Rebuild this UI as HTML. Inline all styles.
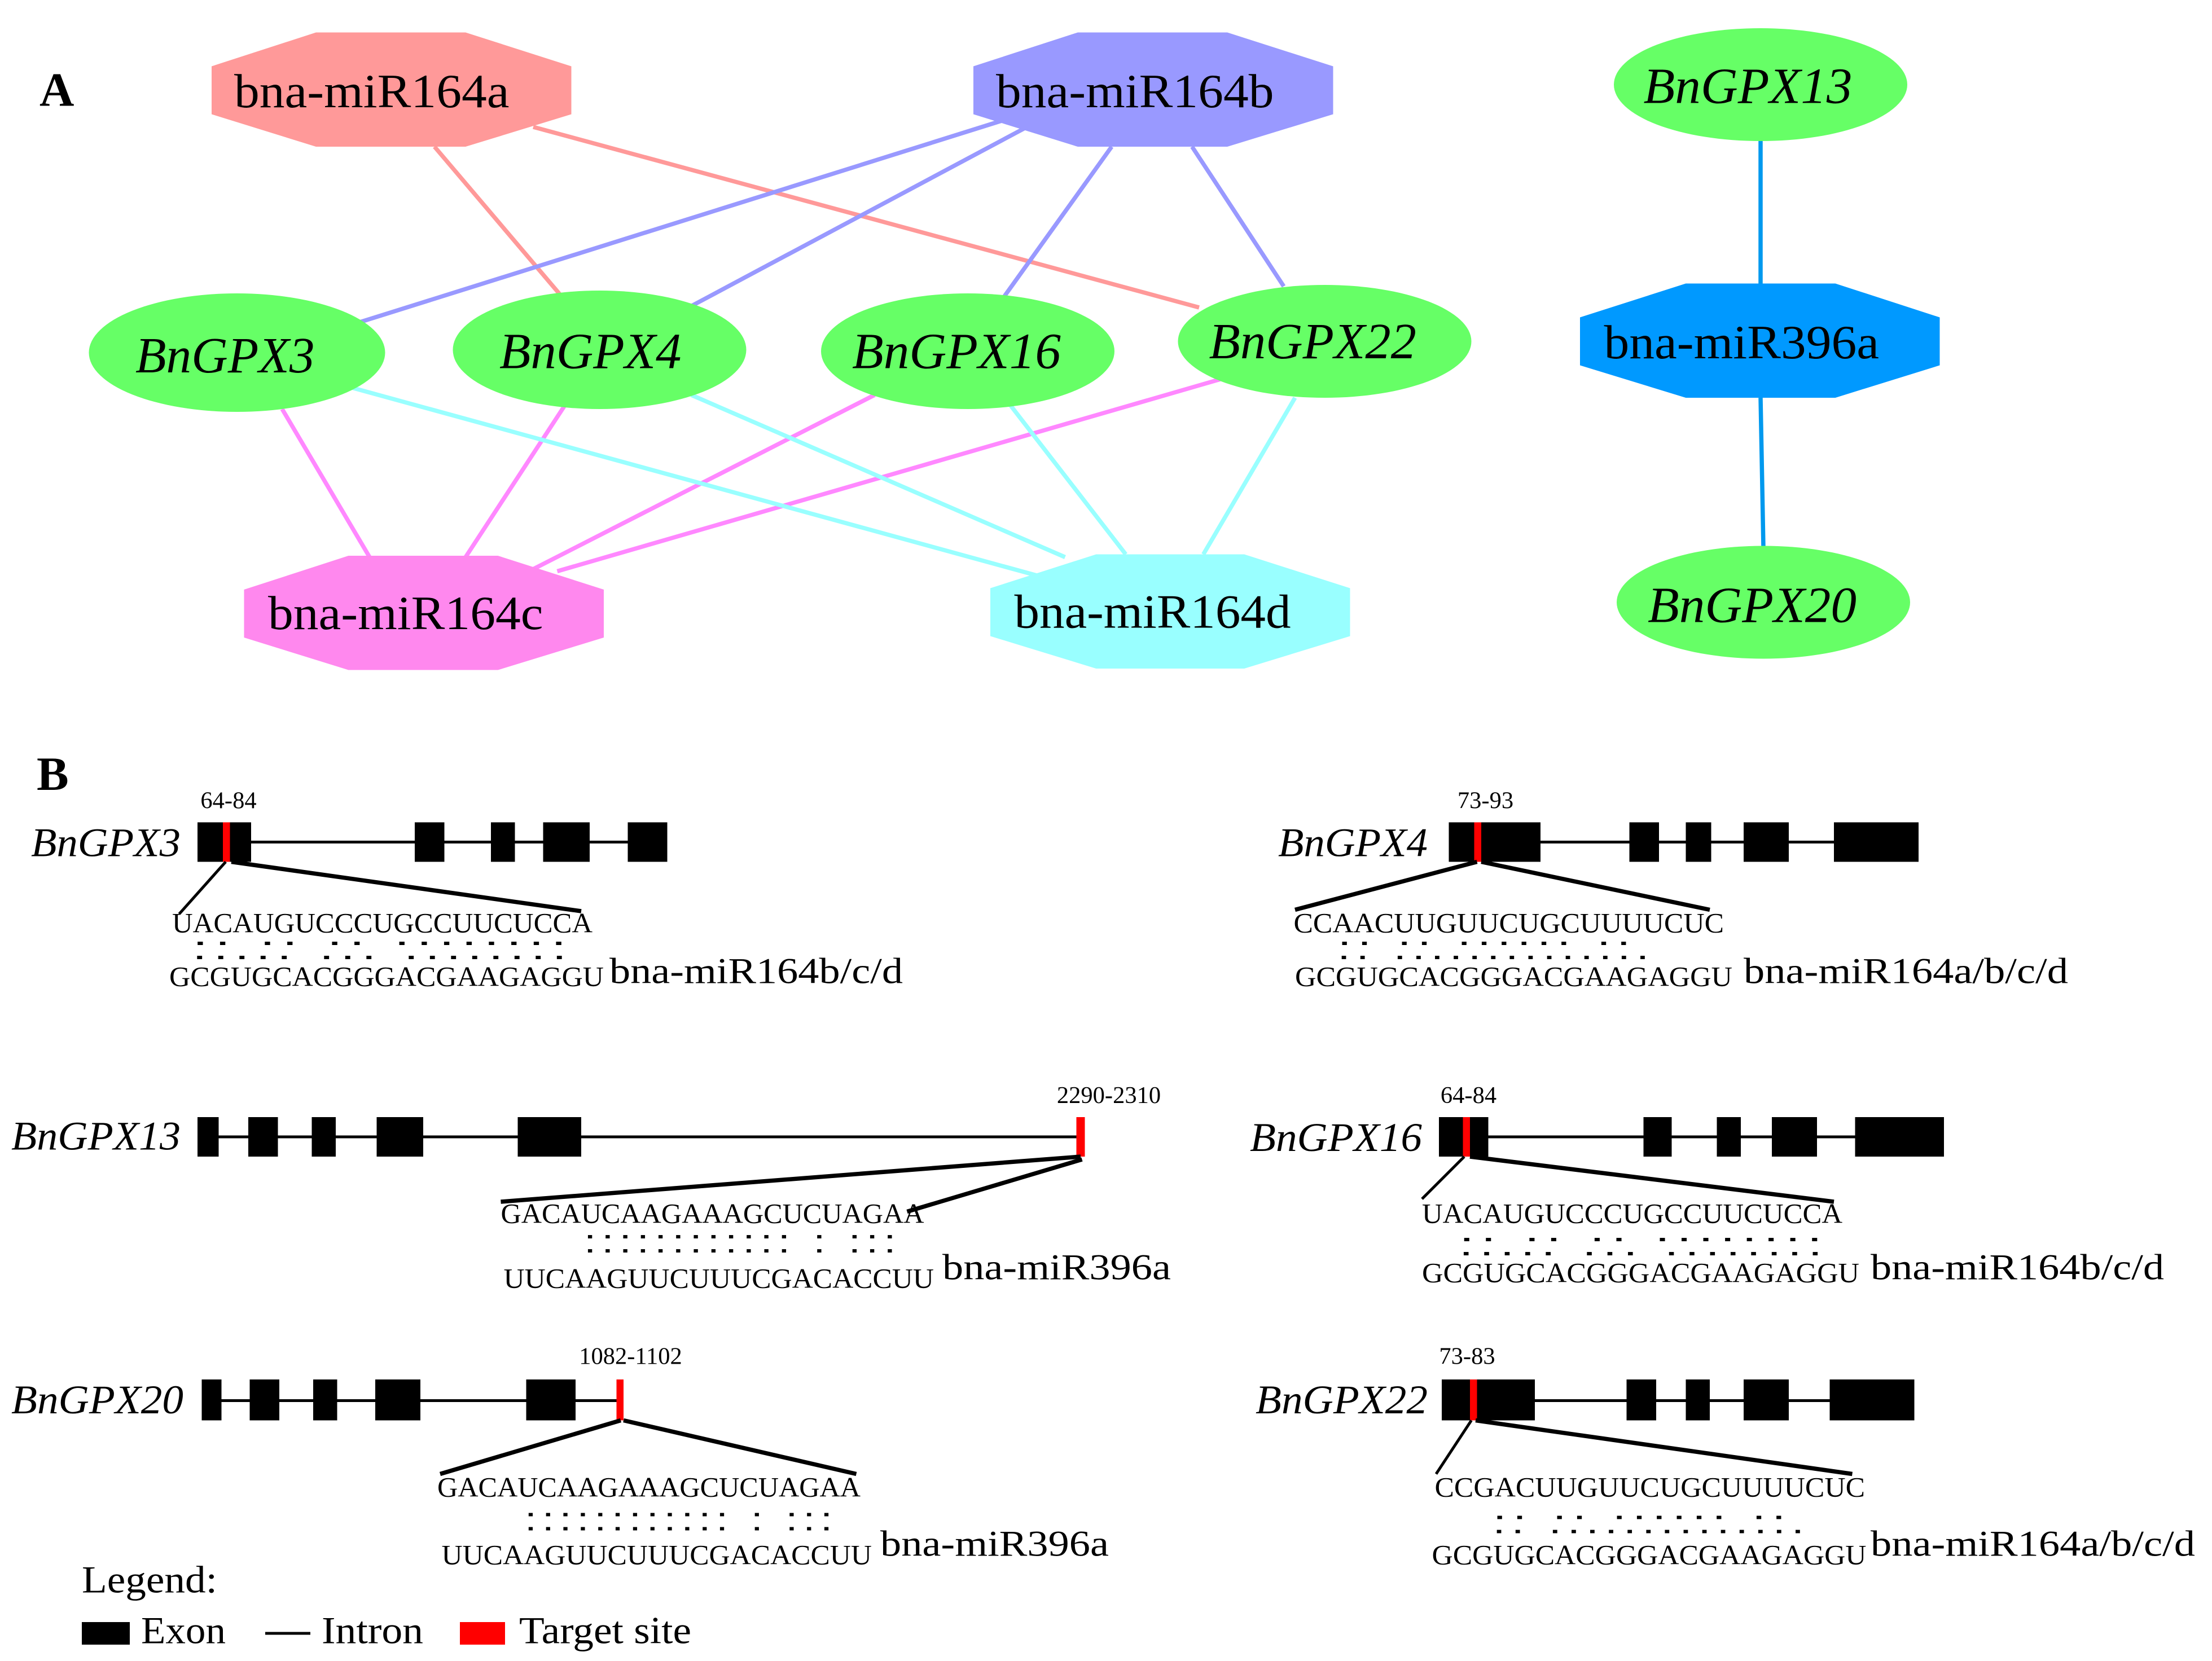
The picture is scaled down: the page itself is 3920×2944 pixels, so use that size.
<!DOCTYPE html>
<html><head><meta charset="utf-8"><style>
html,body{margin:0;padding:0;background:#fff}
svg{display:block}
text{font-family:"Liberation Serif",serif;fill:#000}
.m{font-family:"Liberation Mono",monospace;font-size:16px;font-weight:bold}
.g{font-size:29px;font-style:italic}
.s{font-size:20px}
.p{font-size:17px}
</style></head><body>
<svg xmlns="http://www.w3.org/2000/svg" width="3920" height="2944" viewBox="0 0 1568 1177.6">
<rect width="1568" height="1177.6" fill="#fff"/>
<text x="28" y="75" font-size="34" font-weight="bold">A</text>
<g stroke-width="3" fill="none">
<line x1="308" y1="104" x2="398" y2="210" stroke="#ff9999"/>
<line x1="378" y1="90" x2="850" y2="218" stroke="#ff9999"/>
<line x1="712" y1="85" x2="250" y2="230" stroke="#9999ff"/>
<line x1="728" y1="90" x2="490" y2="217" stroke="#9999ff"/>
<line x1="788" y1="104" x2="712" y2="210" stroke="#9999ff"/>
<line x1="845" y1="104" x2="910" y2="203" stroke="#9999ff"/>
<line x1="200" y1="290" x2="262" y2="395" stroke="#ff88ff"/>
<line x1="400" y1="288" x2="330" y2="395" stroke="#ff88ff"/>
<line x1="620" y1="280" x2="375" y2="405" stroke="#ff88ff"/>
<line x1="868" y1="268" x2="395" y2="405" stroke="#ff88ff"/>
<line x1="250" y1="275" x2="735" y2="408" stroke="#99ffff"/>
<line x1="490" y1="280" x2="755" y2="395" stroke="#99ffff"/>
<line x1="716" y1="287" x2="798" y2="393" stroke="#99ffff"/>
<line x1="918" y1="282" x2="853" y2="393" stroke="#99ffff"/>
<line x1="1248" y1="100" x2="1248" y2="202" stroke="#0099ee"/>
<line x1="1248" y1="282" x2="1250" y2="388" stroke="#0099ee"/>
</g>
<polygon points="224,23 330,23 405,47 405,81 330,104 224,104 150,81 150,47" fill="#ff9999"/>
<text x="166" y="76" font-size="34" textLength="195" lengthAdjust="spacingAndGlyphs">bna-miR164a</text>
<polygon points="764,23 870,23 945,47 945,81 870,104 764,104 690,81 690,47" fill="#9999ff"/>
<text x="706" y="76" font-size="34" textLength="197" lengthAdjust="spacingAndGlyphs">bna-miR164b</text>
<polygon points="1195,201 1301,201 1375,225 1375,259 1301,282 1195,282 1120,259 1120,225" fill="#0099ff"/>
<text x="1137" y="254" font-size="34" textLength="195" lengthAdjust="spacingAndGlyphs">bna-miR396a</text>
<polygon points="247,394 353,394 428,418 428,452 353,475 247,475 173,452 173,418" fill="#ff88ee"/>
<text x="190" y="446" font-size="34" textLength="195" lengthAdjust="spacingAndGlyphs">bna-miR164c</text>
<polygon points="777,393 882,393 957,417 957,451 882,474 777,474 702,451 702,417" fill="#99ffff"/>
<text x="719" y="445" font-size="34" textLength="196" lengthAdjust="spacingAndGlyphs">bna-miR164d</text>
<g fill="#66ff66">
<ellipse cx="1248" cy="60" rx="104" ry="40"/>
<ellipse cx="1250" cy="427" rx="104" ry="40"/>
<ellipse cx="168" cy="250" rx="105" ry="42"/>
<ellipse cx="425" cy="248" rx="104" ry="42"/>
<ellipse cx="686" cy="249" rx="104" ry="41"/>
<ellipse cx="939" cy="242" rx="104" ry="40"/>
</g>
<g font-style="italic" font-size="36">
<text x="1165" y="73" textLength="148" lengthAdjust="spacingAndGlyphs">BnGPX13</text>
<text x="1168" y="441" textLength="148" lengthAdjust="spacingAndGlyphs">BnGPX20</text>
<text x="96" y="264" textLength="127" lengthAdjust="spacingAndGlyphs">BnGPX3</text>
<text x="354" y="261" textLength="129" lengthAdjust="spacingAndGlyphs">BnGPX4</text>
<text x="604" y="261" textLength="148" lengthAdjust="spacingAndGlyphs">BnGPX16</text>
<text x="857" y="254" textLength="147" lengthAdjust="spacingAndGlyphs">BnGPX22</text>
</g>

<text x="26" y="560" font-size="34" font-weight="bold">B</text>

<!-- BnGPX3 -->
<text class="g" x="22" y="607" textLength="106" lengthAdjust="spacingAndGlyphs">BnGPX3</text>
<line x1="140" y1="597" x2="473" y2="597" stroke="#000" stroke-width="2"/>
<g fill="#000"><rect x="140" y="583" width="38" height="28"/><rect x="294" y="583" width="21" height="28"/><rect x="348" y="583" width="17" height="28"/><rect x="385" y="583" width="33" height="28"/><rect x="445" y="583" width="28" height="28"/></g>
<rect x="158" y="583" width="5" height="28" fill="#f00"/>
<text class="p" x="162" y="573" text-anchor="middle">64-84</text>
<line x1="160" y1="611" x2="127" y2="648" stroke="#000" stroke-width="2"/>
<line x1="164" y1="611" x2="412" y2="646" stroke="#000" stroke-width="3"/>
<text class="s" x="122" y="661" textLength="298" lengthAdjust="spacingAndGlyphs">UACAUGUCCCUGCCUUCUCCA</text>
<text class="m" x="134" y="670" textLength="270" lengthAdjust="spacingAndGlyphs">.. .. ..   ........</text>
<text class="m" x="134" y="680" textLength="270" lengthAdjust="spacingAndGlyphs">..... ...  ........</text>
<text class="s" x="120" y="699" textLength="308" lengthAdjust="spacingAndGlyphs">GCGUGCACGGGACGAAGAGGU</text>
<text x="432" y="697" font-size="26" textLength="208" lengthAdjust="spacingAndGlyphs">bna-miR164b/c/d</text>

<!-- BnGPX4 -->
<text class="g" x="906" y="607" textLength="106" lengthAdjust="spacingAndGlyphs">BnGPX4</text>
<line x1="1027" y1="597" x2="1360" y2="597" stroke="#000" stroke-width="2"/>
<g fill="#000"><rect x="1027" y="583" width="65" height="28"/><rect x="1155" y="583" width="21" height="28"/><rect x="1195" y="583" width="18" height="28"/><rect x="1236" y="583" width="32" height="28"/><rect x="1300" y="583" width="60" height="28"/></g>
<rect x="1045" y="583" width="5" height="28" fill="#f00"/>
<text class="p" x="1053" y="573" text-anchor="middle">73-93</text>
<line x1="1047" y1="611" x2="918" y2="645" stroke="#000" stroke-width="3"/>
<line x1="1050" y1="611" x2="1212" y2="645" stroke="#000" stroke-width="3"/>
<text class="s" x="917" y="661" textLength="305" lengthAdjust="spacingAndGlyphs">CCAACUUGUUCUGCUUUUCUC</text>
<text class="m" x="946" y="670" textLength="212" lengthAdjust="spacingAndGlyphs">.. ..  ...... ..</text>
<text class="m" x="946" y="680" textLength="225" lengthAdjust="spacingAndGlyphs">.. ..............</text>
<text class="s" x="918" y="699" textLength="310" lengthAdjust="spacingAndGlyphs">GCGUGCACGGGACGAAGAGGU</text>
<text x="1236" y="697" font-size="26" textLength="230" lengthAdjust="spacingAndGlyphs">bna-miR164a/b/c/d</text>

<!-- BnGPX13 -->
<text class="g" x="8" y="815" textLength="120" lengthAdjust="spacingAndGlyphs">BnGPX13</text>
<line x1="140" y1="806" x2="766" y2="806" stroke="#000" stroke-width="2"/>
<g fill="#000"><rect x="140" y="792" width="15" height="28"/><rect x="176" y="792" width="21" height="28"/><rect x="221" y="792" width="17" height="28"/><rect x="267" y="792" width="33" height="28"/><rect x="367" y="792" width="45" height="28"/></g>
<rect x="763" y="792" width="6" height="28" fill="#f00"/>
<text class="p" x="786" y="782" text-anchor="middle">2290-2310</text>
<line x1="766" y1="820" x2="355" y2="852" stroke="#000" stroke-width="3"/>
<line x1="767" y1="822" x2="643" y2="859" stroke="#000" stroke-width="3"/>
<text class="s" x="355" y="867" textLength="300" lengthAdjust="spacingAndGlyphs">GACAUCAAGAAAGCUCUAGAA</text>
<text class="m" x="412" y="878" textLength="225" lengthAdjust="spacingAndGlyphs">............ . ...</text>
<text class="m" x="412" y="888" textLength="225" lengthAdjust="spacingAndGlyphs">............ . ...</text>
<text class="s" x="357" y="913" textLength="305" lengthAdjust="spacingAndGlyphs">UUCAAGUUCUUUCGACACCUU</text>
<text x="668" y="907" font-size="26" textLength="162" lengthAdjust="spacingAndGlyphs">bna-miR396a</text>

<!-- BnGPX16 -->
<text class="g" x="886" y="816" textLength="122" lengthAdjust="spacingAndGlyphs">BnGPX16</text>
<line x1="1020" y1="806" x2="1378" y2="806" stroke="#000" stroke-width="2"/>
<g fill="#000"><rect x="1020" y="792" width="35" height="28"/><rect x="1165" y="792" width="20" height="28"/><rect x="1217" y="792" width="17" height="28"/><rect x="1256" y="792" width="32" height="28"/><rect x="1315" y="792" width="63" height="28"/></g>
<rect x="1037" y="792" width="5" height="28" fill="#f00"/>
<text class="p" x="1041" y="782" text-anchor="middle">64-84</text>
<line x1="1038" y1="820" x2="1008" y2="850" stroke="#000" stroke-width="2"/>
<line x1="1042" y1="820" x2="1300" y2="852" stroke="#000" stroke-width="3"/>
<text class="s" x="1008" y="867" textLength="298" lengthAdjust="spacingAndGlyphs">UACAUGUCCCUGCCUUCUCCA</text>
<text class="m" x="1032" y="880" textLength="262" lengthAdjust="spacingAndGlyphs">.. .. ..   ........</text>
<text class="m" x="1032" y="890" textLength="262" lengthAdjust="spacingAndGlyphs">..... ...  ........</text>
<text class="s" x="1008" y="909" textLength="310" lengthAdjust="spacingAndGlyphs">GCGUGCACGGGACGAAGAGGU</text>
<text x="1326" y="907" font-size="26" textLength="208" lengthAdjust="spacingAndGlyphs">bna-miR164b/c/d</text>

<!-- BnGPX20 -->
<text class="g" x="8" y="1002" textLength="122" lengthAdjust="spacingAndGlyphs">BnGPX20</text>
<line x1="143" y1="993" x2="440" y2="993" stroke="#000" stroke-width="2"/>
<g fill="#000"><rect x="143" y="978" width="14" height="29"/><rect x="177" y="978" width="21" height="29"/><rect x="222" y="978" width="17" height="29"/><rect x="266" y="978" width="32" height="29"/><rect x="373" y="978" width="35" height="29"/></g>
<rect x="437" y="978" width="5" height="29" fill="#f00"/>
<text class="p" x="447" y="967" text-anchor="middle">1082-1102</text>
<line x1="440" y1="1007" x2="312" y2="1045" stroke="#000" stroke-width="3"/>
<line x1="442" y1="1007" x2="607" y2="1045" stroke="#000" stroke-width="3"/>
<text class="s" x="310" y="1061" textLength="300" lengthAdjust="spacingAndGlyphs">GACAUCAAGAAAGCUCUAGAA</text>
<text class="m" x="370" y="1075" textLength="222" lengthAdjust="spacingAndGlyphs">............ . ...</text>
<text class="m" x="370" y="1085" textLength="222" lengthAdjust="spacingAndGlyphs">............ . ...</text>
<text class="s" x="313" y="1109" textLength="305" lengthAdjust="spacingAndGlyphs">UUCAAGUUCUUUCGACACCUU</text>
<text x="624" y="1103" font-size="26" textLength="162" lengthAdjust="spacingAndGlyphs">bna-miR396a</text>

<!-- BnGPX22 -->
<text class="g" x="890" y="1002" textLength="122" lengthAdjust="spacingAndGlyphs">BnGPX22</text>
<line x1="1022" y1="993" x2="1357" y2="993" stroke="#000" stroke-width="2"/>
<g fill="#000"><rect x="1022" y="978" width="66" height="29"/><rect x="1153" y="978" width="21" height="29"/><rect x="1195" y="978" width="17" height="29"/><rect x="1236" y="978" width="32" height="29"/><rect x="1297" y="978" width="60" height="29"/></g>
<rect x="1042" y="978" width="5" height="29" fill="#f00"/>
<text class="p" x="1040" y="967" text-anchor="middle">73-83</text>
<line x1="1043" y1="1007" x2="1018" y2="1045" stroke="#000" stroke-width="2"/>
<line x1="1046" y1="1007" x2="1313" y2="1045" stroke="#000" stroke-width="3"/>
<text class="s" x="1017" y="1061" textLength="305" lengthAdjust="spacingAndGlyphs">CCGACUUGUUCUGCUUUUCUC</text>
<text class="m" x="1056" y="1077" textLength="212" lengthAdjust="spacingAndGlyphs">.. ..  ...... ..</text>
<text class="m" x="1056" y="1087" textLength="225" lengthAdjust="spacingAndGlyphs">.. ..............</text>
<text class="s" x="1015" y="1109" textLength="308" lengthAdjust="spacingAndGlyphs">GCGUGCACGGGACGAAGAGGU</text>
<text x="1326" y="1103" font-size="26" textLength="230" lengthAdjust="spacingAndGlyphs">bna-miR164a/b/c/d</text>

<!-- Legend -->
<text x="58" y="1129" font-size="27" textLength="96" lengthAdjust="spacingAndGlyphs">Legend:</text>
<rect x="58" y="1150" width="34" height="16" fill="#000"/>
<text x="100" y="1165" font-size="27" textLength="60" lengthAdjust="spacingAndGlyphs">Exon</text>
<line x1="188" y1="1158" x2="220" y2="1158" stroke="#000" stroke-width="2"/>
<text x="228" y="1165" font-size="27" textLength="72" lengthAdjust="spacingAndGlyphs">Intron</text>
<rect x="326" y="1150" width="32" height="16" fill="#f00"/>
<text x="368" y="1165" font-size="27" textLength="122" lengthAdjust="spacingAndGlyphs">Target site</text>
</svg>
</body></html>
